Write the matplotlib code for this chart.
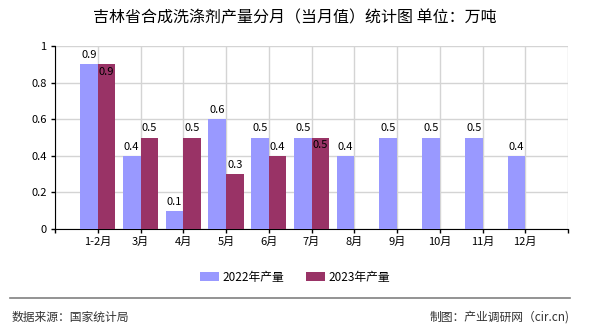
import matplotlib
matplotlib.use('Agg')
import matplotlib.pyplot as plt
from matplotlib.lines import Line2D
import numpy as np

plt.rcParams['font.family'] = ['Noto Sans CJK SC', 'DejaVu Sans']

# data
months = ['1-2月', '3月', '4月', '5月', '6月', '7月', '8月', '9月', '10月', '11月', '12月']
prod_2022 = [0.9, 0.4, 0.1, 0.6, 0.5, 0.5, 0.4, 0.5, 0.5, 0.5, 0.4]
prod_2023 = [0.9, 0.5, 0.5, 0.3, 0.4, 0.5]

BLUE = '#9999ff'
RED = '#993366'
GRID = '#d4d4d4'

fig = plt.figure(figsize=(5.9, 3.3), dpi=100)
ax = fig.add_axes([55 / 590, 1 - 229 / 330, (568 - 55) / 590, (229 - 46) / 330])

w = 0.41
x22 = np.arange(1, len(prod_2022) + 1)
x23 = np.arange(1, len(prod_2023) + 1)

ax.bar(x22 - w / 2, prod_2022, width=w, color=BLUE, label='2022年产量', zorder=3)
ax.bar(x23 + w / 2, prod_2023, width=w, color=RED, label='2023年产量', zorder=3)

# value labels
for x, v in zip(x22, prod_2022):
    ax.annotate(f'{v:g}', (x - w / 2, v), xytext=(0, 3), textcoords='offset points',
                ha='center', va='bottom', fontsize=8, zorder=4)
for i, (x, v) in enumerate(zip(x23, prod_2023)):
    if v == prod_2022[i]:
        # same height as the blue bar: label drops inside the bar
        ax.annotate(f'{v:g}', (x + w / 2, v), xytext=(0, -2), textcoords='offset points',
                    ha='center', va='top', fontsize=8, zorder=4)
    else:
        ax.annotate(f'{v:g}', (x + w / 2, v), xytext=(0, 3), textcoords='offset points',
                    ha='center', va='bottom', fontsize=8, zorder=4)

ax.set_xlim(0, len(months) + 1)
ax.set_ylim(0, 1)
ax.set_xticks(np.arange(0, len(months) + 2))
ax.set_xticklabels([''] + months + [''], fontsize=8)
ax.set_yticks([0, 0.2, 0.4, 0.6, 0.8, 1])
ax.set_yticklabels(['0', '0.2', '0.4', '0.6', '0.8', '1'], fontsize=8)
ax.tick_params(axis='both', length=3, width=1, color='black', pad=3)

ax.grid(True, color=GRID, linewidth=1, zorder=0)
ax.spines['top'].set_visible(False)
ax.spines['right'].set_visible(False)
ax.spines['left'].set_color('black')
ax.spines['bottom'].set_color('black')

fig.text(0.5, 1 - 18 / 330, '吉林省合成洗涤剂产量分月（当月值）统计图 单位：万吨',
         ha='center', va='center', fontsize=11.5)

fig.legend(loc='center', bbox_to_anchor=(0.5, 1 - 277 / 330), ncol=2, frameon=False,
           fontsize=8.5, handlelength=1.6, handleheight=0.8, columnspacing=1.8,
           handletextpad=0.3)

fig.add_artist(Line2D([10 / 590, 570 / 590], [1 - 298 / 330, 1 - 298 / 330],
                      color='#808080', linewidth=1.2))
fig.text(12 / 590, 1 - 317 / 330, '数据来源：国家统计局', ha='left', va='center',
         fontsize=8.5, color='#333333')
fig.text(570 / 590, 1 - 317 / 330, '制图：产业调研网（cir.cn)', ha='right', va='center',
         fontsize=8.5, color='#333333')

fig.savefig('out.png', dpi=100)
